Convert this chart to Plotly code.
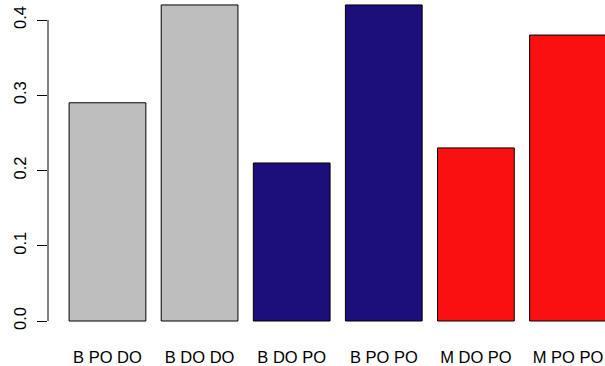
import plotly.graph_objects as go

# Bar data
categories = ["B PO DO", "B DO DO", "B DO PO", "B PO PO", "M DO PO", "M PO PO"]
values = [0.29, 0.42, 0.21, 0.42, 0.23, 0.38]
colors = ["#BEBEBE", "#BEBEBE", "#1C0E7B", "#1C0E7B", "#FA1010", "#FA1010"]

# R-style barplot layout: width 1, gap 0.2
bar_width = 1.0
space = 0.2
positions = [space + bar_width / 2 + i * (bar_width + space) for i in range(len(values))]

y_ticks = [0.0, 0.1, 0.2, 0.3, 0.4]
y_ticktext = ["0.0", "0.1", "0.2", "0.3", "0.4"]

fig = go.Figure(
    go.Bar(
        x=positions,
        y=values,
        width=bar_width,
        marker=dict(color=colors, line=dict(color="black", width=1)),
        hoverinfo="skip",
    )
)

# y-axis line spanning only the tick range, as in base R graphics
fig.add_shape(
    type="line",
    xref="paper", yref="y",
    x0=0, x1=0, y0=y_ticks[0], y1=y_ticks[-1],
    line=dict(color="black", width=1),
)

font = dict(family="Liberation Sans, Arial, sans-serif", size=16.5, color="black")

fig.update_layout(
    width=605,
    height=366,
    margin=dict(l=48, r=0, t=0, b=32),
    paper_bgcolor="white",
    plot_bgcolor="white",
    showlegend=False,
    font=font,
    xaxis=dict(
        range=[-0.075, 7.182],
        tickvals=positions,
        ticktext=categories,
        showgrid=False,
        zeroline=False,
        showline=False,
        ticks="",
        ticklabelstandoff=11,
        tickfont=font,
    ),
    yaxis=dict(
        range=[-0.01728, 0.42658],
        tickvals=y_ticks,
        ticktext=y_ticktext,
        tickangle=-90,
        showgrid=False,
        zeroline=False,
        showline=False,
        ticks="outside",
        ticklen=10,
        tickwidth=1,
        tickcolor="black",
        ticklabelstandoff=4,
        tickfont=font,
    ),
)

fig.write_html("out.html")
